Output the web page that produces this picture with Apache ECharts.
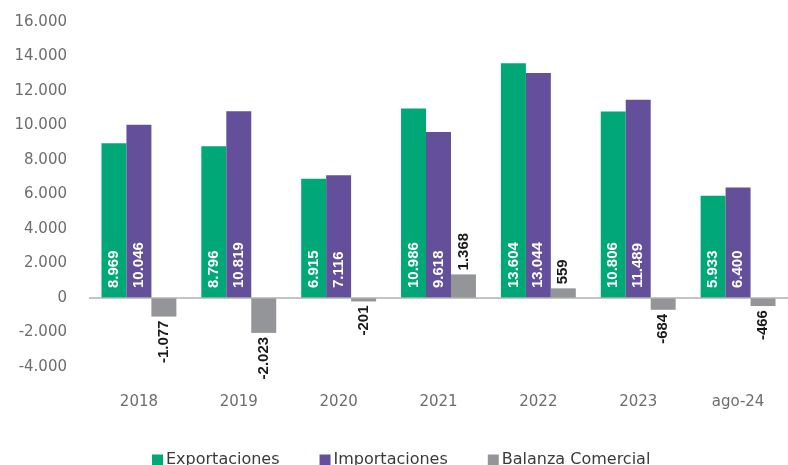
<!DOCTYPE html>
<html>
<head>
<meta charset="utf-8">
<script src="https://cdn.jsdelivr.net/npm/echarts@6/dist/echarts.min.js"></script>
<style>
  html, body { margin: 0; padding: 0; background: #fff; }
  #chart { width: 788px; height: 465px; }
</style>
</head>
<body>
<div id="chart"></div>
<script>
// datos
var categorias = ['2018', '2019', '2020', '2021', '2022', '2023', 'ago-24'];
var exportaciones = [8969, 8796, 6915, 10986, 13604, 10806, 5933];
var importaciones = [10046, 10819, 7116, 9618, 13044, 11489, 6400];
var balanza = [-1077, -2023, -201, 1368, 559, -684, -466];
var ticksY = { min: -4000, max: 16000, interval: 2000 };

function fmt(v) {
  var s = String(Math.abs(Math.round(v))).replace(/\B(?=(\d{3})+(?!\d))/g, '.');
  return (v < 0 ? '-' : '') + s;
}

var labelDentro = {
  show: true,
  position: 'insideBottom',
  rotate: 90,
  align: 'left',
  verticalAlign: 'middle',
  distance: 10,
  color: '#fff',
  fontFamily: 'Liberation Sans',
  fontWeight: 'bold',
  fontSize: 15,
  formatter: function (p) { return fmt(p.value); }
};

var balanzaData = balanza.map(function (v) {
  return {
    value: v,
    label: v >= 0
      ? { position: 'top', align: 'left' }
      : { position: 'bottom', align: 'right' }
  };
});

var chart = echarts.init(document.getElementById('chart'));
chart.setOption({
  animation: false,
  grid: { left: 89, right: -9, top: 22, bottom: 98, containLabel: false },
  legend: {
    data: ['Exportaciones', 'Importaciones', 'Balanza Comercial'],
    left: 147,
    top: 447,
    itemWidth: 11,
    itemHeight: 11,
    itemGap: 40,
    icon: 'rect',
    textStyle: { color: '#3a3a3a', fontSize: 16, fontFamily: 'DejaVu Sans', padding: [0, 0, 0, -2] }
  },
  xAxis: {
    type: 'category',
    data: categorias,
    axisLine: { show: false, onZero: false },
    axisTick: { show: false },
    axisLabel: { color: '#6d6d6d', fontSize: 15, fontFamily: 'DejaVu Sans', margin: 28 }
  },
  yAxis: {
    type: 'value',
    min: ticksY.min,
    max: ticksY.max,
    interval: ticksY.interval,
    axisLine: { show: false },
    axisTick: { show: false },
    splitLine: { show: false },
    axisLabel: { color: '#6d6d6d', fontSize: 15, fontFamily: 'DejaVu Sans', margin: 22, formatter: fmt }
  },
  series: [
    {
      name: 'Exportaciones',
      type: 'bar',
      data: exportaciones,
      barGap: '0%',
      barCategoryGap: '25%',
      itemStyle: { color: '#00a878' },
      label: labelDentro,
      markLine: {
        silent: true,
        symbol: 'none',
        label: { show: false },
        lineStyle: { color: '#b0b0b0', width: 1.5, type: 'solid' },
        data: [{ yAxis: 0 }]
      }
    },
    {
      name: 'Importaciones',
      type: 'bar',
      data: importaciones,
      itemStyle: { color: '#634f9a' },
      label: labelDentro
    },
    {
      name: 'Balanza Comercial',
      type: 'bar',
      data: balanzaData,
      itemStyle: { color: '#939598' },
      label: {
        show: true,
        rotate: 90,
        verticalAlign: 'middle',
        distance: 4,
        color: '#1a1a1a',
        fontFamily: 'Liberation Sans',
        fontWeight: 'bold',
        fontSize: 15,
        formatter: function (p) { return fmt(p.value); }
      }
    }
  ]
});
</script>
</body>
</html>
